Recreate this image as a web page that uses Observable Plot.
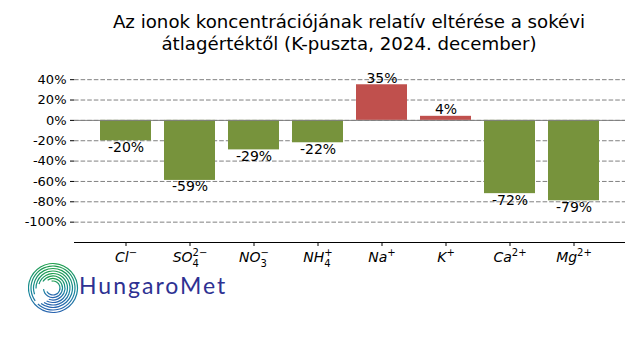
<!DOCTYPE html>
<html>
<head>
<meta charset="utf-8">
<script src="https://cdn.jsdelivr.net/npm/d3@7"></script>
<script src="https://cdn.jsdelivr.net/npm/@observablehq/plot@0.6"></script>
<style>
  html, body { margin: 0; padding: 0; background: #fff; }
  #wrap { position: relative; width: 640px; height: 360px; overflow: hidden; font-family: "DejaVu Sans", sans-serif; }
  #title { position: absolute; left: 47px; top: 11px; width: 604px; text-align: center; font-size: 18.2px; line-height: 22px; color: #000; }
  #chart { position: absolute; left: 0; top: 0; }
  #logo { position: absolute; left: 28px; top: 261px; }
  #logotext { position: absolute; left: 79px; top: 270px; font-family: Lato, "Open Sans", sans-serif; font-weight: 400; font-size: 23px; line-height: 30px; letter-spacing: 2px; color: #2e3192; }
</style>
</head>
<body>
<div id="wrap">
  <div id="chart"></div>
  <div id="title">Az ionok koncentrációjának relatív eltérése a sokévi<br>átlagértéktől (K-puszta, 2024. december)</div>
  <svg id="logo" width="52" height="56" viewBox="0 0 52 56"></svg>
  <div id="logotext">HungaroMet</div>
</div>
<script>
// ---- data ----
const ions = ["Cl-", "SO4 2-", "NO3-", "NH4+", "Na+", "K+", "Ca2+", "Mg2+"];
const ionBase = ["Cl", "SO", "NO", "NH", "Na", "K", "Ca", "Mg"];
const ionSub = ["", "4", "3", "4", "", "", "", ""];
const ionSup = ["\u2212", "2\u2212", "\u2212", "+", "+", "+", "2+", "2+"];
const values = [-20, -59, -29, -22, 35, 4, -72, -79];
const yTicks = [-100, -80, -60, -40, -20, 0, 20, 40];

const green = "#77933c";
const red = "#c0504d";

const data = ions.map((ion, i) => ({ ion, value: values[i], sign: values[i] < 0 ? "neg" : "pos", label: values[i] + "%" }));

const plot = Plot.plot({
  width: 640,
  height: 360,
  marginTop: 69,
  marginBottom: 118,
  marginLeft: 74,
  marginRight: 15,
  style: { fontFamily: "DejaVu Sans", fontSize: "13px", background: "transparent", color: "#000" },
  x: { domain: ions, paddingInner: 0.2, paddingOuter: 0.4, axis: null, label: null },
  y: { domain: [-120, 50], axis: null, label: null },
  color: { domain: ["neg", "pos"], range: [green, red] },
  marks: [
    Plot.gridY(yTicks, { stroke: "#808080", strokeOpacity: 1, strokeDasharray: "4.6,2", strokeWidth: 1 }),
    Plot.barY(data, { x: "ion", y: "value", fill: "sign" }),
    Plot.ruleY([0], { stroke: "#808080", strokeWidth: 1 }),
    Plot.ruleY([-120], { stroke: "#000", strokeWidth: 1.2 }),
    Plot.axisY(yTicks, { tickFormat: d => d + "%", tickSize: 4, tickPadding: 4, fontSize: 13, stroke: "#000", label: null }),
    Plot.axisX(ions, { tickSize: 4, tickPadding: 6, fontSize: 14, tickFormat: d => d, stroke: "#000", label: null }),
    Plot.text(data.filter(d => d.value < 0), { x: "ion", y: "value", text: "label", lineAnchor: "top", dy: 1, fontSize: 14, fill: "#000" }),
    Plot.text(data.filter(d => d.value >= 0), { x: "ion", y: "value", text: "label", lineAnchor: "bottom", dy: -2, fontSize: 14, fill: "#000" })
  ]
});
document.getElementById("chart").appendChild(plot);

// rich x tick labels with sub/superscripts
const svgNS = "http://www.w3.org/2000/svg";
plot.querySelectorAll('[aria-label="x-axis tick label"] text').forEach(t => {
  const i = ions.indexOf(t.textContent);
  if (i < 0) return;
  t.textContent = "";
  t.setAttribute("font-style", "italic");
  const base = document.createElementNS(svgNS, "tspan");
  base.textContent = ionBase[i];
  t.appendChild(base);
  let subW = 0;
  if (ionSub[i]) {
    const s = document.createElementNS(svgNS, "tspan");
    s.setAttribute("font-size", "10");
    s.setAttribute("dy", "5");
    s.setAttribute("font-style", "normal");
    s.textContent = ionSub[i];
    t.appendChild(s);
    subW = s.getComputedTextLength();
  }
  const p = document.createElementNS(svgNS, "tspan");
  p.setAttribute("font-size", "10");
  p.setAttribute("font-style", "normal");
  p.setAttribute("dy", ionSub[i] ? "-11" : "-6");
  if (subW) p.setAttribute("dx", -subW);
  p.textContent = ionSup[i];
  t.appendChild(p);
});

// logo graphic (decorative)
const logo = d3.select("#logo");
const defs = logo.append("defs");
const grad = defs.append("linearGradient").attr("id", "lg").attr("x1", 0).attr("y1", 0).attr("x2", 0).attr("y2", 1);
grad.append("stop").attr("offset", "0%").attr("stop-color", "#1e9e4a");
grad.append("stop").attr("offset", "55%").attr("stop-color", "#16899a");
grad.append("stop").attr("offset", "100%").attr("stop-color", "#2a63b0");
const cx = 25, cy = 27;
const arc = d3.arc();
const rings = [
  { r: 7, a0: -0.2, a1: 4.2 },
  { r: 9.5, a0: -0.6, a1: 4.6 },
  { r: 12, a0: -1.0, a1: 3.5 },
  { r: 14.5, a0: -1.3, a1: 3.6 },
  { r: 17, a0: -1.6, a1: 3.7 },
  { r: 19.5, a0: -1.9, a1: 3.8 },
  { r: 22, a0: -2.2, a1: 3.9 },
  { r: 24.5, a0: -2.5, a1: 4.0 }
];
logo.append("g").attr("transform", `translate(${cx},${cy})`)
  .selectAll("path").data(rings).join("path")
  .attr("d", d => arc({ innerRadius: d.r - 0.6, outerRadius: d.r + 0.6, startAngle: d.a0, endAngle: d.a1 }))
  .attr("fill", "url(#lg)");
</script>
</body>
</html>
